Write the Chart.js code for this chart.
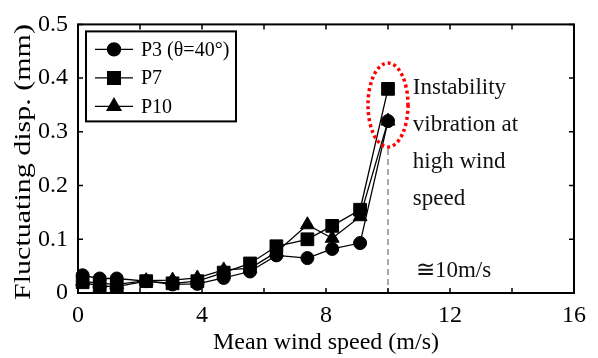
<!DOCTYPE html>
<html>
<head>
<meta charset="utf-8">
<script src="https://cdn.jsdelivr.net/npm/chart.js@4/dist/chart.umd.min.js"></script>
<style>
  body { margin: 0; background: #fff; }
  #wrap { width: 598px; height: 358px; }
</style>
</head>
<body>
<div id="wrap"><canvas id="myChart" width="598" height="358"></canvas></div>
<script>
// mean wind speed (m/s)
var speed = [0.15, 0.7, 1.25, 2.2, 3.05, 3.85, 4.7, 5.55, 6.4, 7.4, 8.2, 9.1, 10];
// fluctuating displacement (mm)
var p3  = [0.033, 0.027, 0.027, 0.022, 0.016, 0.017, 0.028, 0.040, 0.070, 0.065, 0.082, 0.093, 0.32];
var p7  = [0.020, 0.013, 0.012, 0.022, 0.018, 0.022, 0.038, 0.055, 0.087, 0.100, 0.125, 0.155, 0.38];
var p10 = [0.022, 0.018, 0.016, 0.023, 0.024, 0.028, 0.043, 0.046, 0.076, 0.127, 0.102, 0.142, 0.32];
var seriesNames = ['P3 (θ=40°)', 'P7', 'P10'];
var xTickLabels = ['0', '4', '8', '12', '16'];
var noteLines = ['Instability', 'vibration at', 'high wind', 'speed'];
var noteSpeed = '≅10m/s';
var xTitle = 'Mean wind speed (m/s)';
var yTitle = 'Fluctuating disp. (mm)';

var serif = '"Liberation Serif", "Times New Roman", serif';

function pts(ys){
  return speed.map((s, i) => ({x: s, y: ys[i]}));
}

// box, inward ticks, y title, legend and the annotations
var decor = {
  id: 'decor',
  afterDatasetsDraw(chart){
    var ctx = chart.ctx, a = chart.chartArea;
    var xs = chart.scales.x, ys = chart.scales.y;
    ctx.save();

    // dashed line at 10 m/s
    var px = xs.getPixelForValue(10);
    ctx.strokeStyle = '#555';
    ctx.lineWidth = 1;
    ctx.setLineDash([6, 4]);
    ctx.beginPath();
    ctx.moveTo(px, ys.getPixelForValue(0.268));
    ctx.lineTo(px, a.bottom);
    ctx.stroke();

    // red dotted ellipse
    ctx.strokeStyle = '#ff0000';
    ctx.lineWidth = 3.5;
    ctx.setLineDash([3, 3]);
    ctx.beginPath();
    ctx.ellipse(px, ys.getPixelForValue(0.35), 20, 42, 0, 0, Math.PI * 2);
    ctx.stroke();
    ctx.setLineDash([]);

    // frame
    ctx.strokeStyle = '#000';
    ctx.lineWidth = 2;
    ctx.strokeRect(a.left, a.top, a.right - a.left, a.bottom - a.top);
    ctx.lineWidth = 1.5;
    ctx.beginPath();
    xs.ticks.forEach(t => {
      var x = xs.getPixelForValue(t.value);
      ctx.moveTo(x, a.bottom); ctx.lineTo(x, a.bottom - 5);
      ctx.moveTo(x, a.top); ctx.lineTo(x, a.top + 5);
    });
    ys.ticks.forEach(t => {
      var y = ys.getPixelForValue(t.value);
      ctx.moveTo(a.left, y); ctx.lineTo(a.left + 5, y);
      ctx.moveTo(a.right, y); ctx.lineTo(a.right - 5, y);
    });
    ctx.stroke();

    // y title
    ctx.save();
    ctx.translate(24, 162);
    ctx.rotate(-Math.PI / 2);
    ctx.scale(1.25, 1);
    ctx.fillStyle = '#000';
    ctx.font = '24px ' + serif;
    ctx.textAlign = 'center';
    ctx.textBaseline = 'middle';
    ctx.fillText(yTitle, 0, 0);
    ctx.restore();

    // legend
    var lx = a.left + 8, ly = a.top + 7;
    ctx.fillStyle = '#fff';
    ctx.fillRect(lx, ly, 150, 90);
    ctx.strokeStyle = '#000';
    ctx.lineWidth = 2;
    ctx.strokeRect(lx, ly, 150, 90);
    ctx.font = '20px ' + serif;
    ctx.textAlign = 'left';
    ctx.textBaseline = 'middle';
    chart.data.datasets.forEach((ds, i) => {
      var ry = ly + 18 + i * 28.5;
      ctx.strokeStyle = '#000';
      ctx.lineWidth = 1.3;
      ctx.beginPath();
      ctx.moveTo(lx + 9, ry); ctx.lineTo(lx + 47, ry);
      ctx.stroke();
      ctx.fillStyle = '#000';
      Chart.helpers.drawPoint(ctx, {pointStyle: ds.pointStyle, radius: ds.pointRadius, rotation: 0, borderWidth: 1}, lx + 28, ry);
      ctx.fillStyle = '#000';
      ctx.fillText(ds.label, lx + 55, ry + 1);
    });

    // annotation text
    ctx.fillStyle = '#111';
    ctx.font = '23px ' + serif;
    ctx.textBaseline = 'alphabetic';
    var tx = xs.getPixelForValue(10.8);
    var ty = ys.getPixelForValue(0.37);
    noteLines.forEach((s, i) => ctx.fillText(s, tx, ty + i * 37));
    ctx.fillText(noteSpeed, xs.getPixelForValue(10.9), ys.getPixelForValue(0.029));

    ctx.restore();
  }
};

var ctx = document.getElementById('myChart').getContext('2d');
var styles = ['circle', 'rect', 'triangle'];
var radii = [6.5, 9, 8];
var myChart = new Chart(ctx, {
  type: 'line',
  data: {
    datasets: [p3, p7, p10].map((d, i) => ({
      label: seriesNames[i],
      data: pts(d),
      borderColor: '#000',
      backgroundColor: '#000',
      borderWidth: 1.3,
      pointStyle: styles[i],
      pointRadius: radii[i],
      pointBorderWidth: 1,
      tension: 0,
      clip: false
    }))
  },
  options: {
    responsive: false,
    animation: false,
    layout: { padding: { top: 18, right: 24, left: 0, bottom: 0 } },
    plugins: { legend: { display: false }, tooltip: { enabled: false } },
    scales: {
      x: {
        type: 'linear', min: 0, max: 16,
        grid: { display: false, drawTicks: false },
        border: { display: false },
        ticks: {
          stepSize: 2, padding: 8, color: '#000', maxRotation: 0,
          font: { family: serif, size: 24 },
          callback: v => (v % 4 === 0 ? xTickLabels[v / 4] : '')
        },
        title: { display: true, text: xTitle, color: '#000', padding: { top: 0, bottom: 1 }, font: { family: serif, size: 24 } },
        afterFit: s => { s.height = 65; }
      },
      y: {
        min: 0, max: 0.5,
        grid: { display: false, drawTicks: false },
        border: { display: false },
        ticks: {
          stepSize: 0.1, padding: 10, color: '#000',
          font: { family: serif, size: 24 },
          callback: v => (v === 0 ? '0' : v.toFixed(1))
        },
        afterFit: s => { s.width = 78; }
      }
    }
  },
  plugins: [decor]
});
</script>
</body>
</html>
